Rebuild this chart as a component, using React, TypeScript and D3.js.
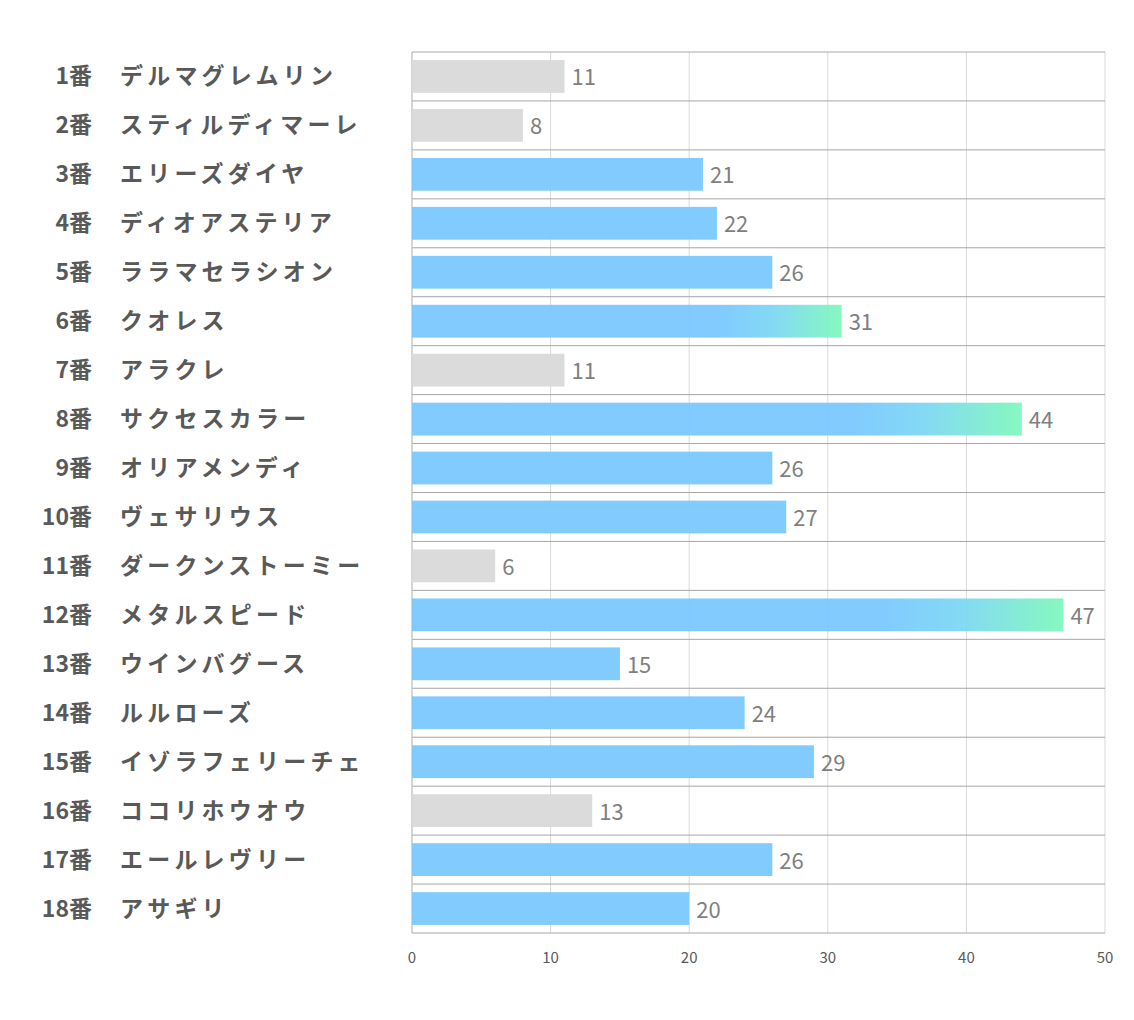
import React from 'react';
import * as d3 from 'd3';

const numbers = ['1番', '2番', '3番', '4番', '5番', '6番', '7番', '8番', '9番', '10番', '11番', '12番', '13番', '14番', '15番', '16番', '17番', '18番'];
const horses = ['デルマグレムリン', 'スティルディマーレ', 'エリーズダイヤ', 'ディオアステリア', 'ララマセラシオン', 'クオレス', 'アラクレ', 'サクセスカラー', 'オリアメンディ', 'ヴェサリウス', 'ダークンストーミー', 'メタルスピード', 'ウインバグース', 'ルルローズ', 'イゾラフェリーチェ', 'ココリホウオウ', 'エールレヴリー', 'アサギリ'];
const scores = [11, 8, 21, 22, 26, 31, 11, 44, 26, 27, 6, 47, 15, 24, 29, 13, 26, 20];
const ticks = [0, 10, 20, 30, 40, 50];

const W = 1134;
const H = 1010;
const left = 412;
const right = 1105;
const top = 52;
const bottom = 933;

const font = '"Noto Sans CJK JP", "Noto Sans", sans-serif';

const App = () => {
    const x = d3.scaleLinear().domain([0, 50]).range([left, right]);
    const y = d3.scaleBand<number>()
        .domain(d3.range(scores.length))
        .range([top, bottom])
        .paddingInner(0.33)
        .paddingOuter(0.165);
    const step = y.step();

    const fillFor = (v: number, i: number) => {
        if (v <= 13) return '#d9d9d9';
        if (v >= 30) return `url(#grad${i})`;
        return '#7ac8ff';
    };

    return (
        <svg width={W} height={H} style={{ display: 'block', marginTop: -8, marginLeft: -8 }}>
            <defs>
                {scores.map((v, i) => v >= 30 && (
                    <linearGradient key={i} id={`grad${i}`} x1="0" x2="1" y1="0" y2="0">
                        <stop offset="0" stopColor="#7ac8ff" />
                        <stop offset="0.72" stopColor="#7ac8ff" />
                        <stop offset="0.84" stopColor="#7dd7f4" />
                        <stop offset="1" stopColor="#80f8bc" />
                    </linearGradient>
                ))}
            </defs>
            <rect width={W} height={H} fill="#fff" />
            {/* vertical grid */}
            {ticks.map(t => (
                <line key={t} x1={x(t)} x2={x(t)} y1={top} y2={bottom} stroke="#d9d9d9" strokeWidth={1} />
            ))}
            {/* row separators */}
            {d3.range(scores.length + 1).map(i => (
                <line key={i} x1={left} x2={right} y1={top + i * step} y2={top + i * step} stroke="#a6a6a6" strokeWidth={1} />
            ))}
            <line x1={left} x2={left} y1={top} y2={bottom} stroke="#bfbfbf" />
            {/* bars */}
            {scores.map((v, i) => {
                const cy = (y(i) ?? 0) + y.bandwidth() / 2 - 2;
                return (
                    <g key={i}>
                        <rect x={x(0)} y={y(i)} width={x(v) - x(0)} height={y.bandwidth()}
                            fill={fillFor(v, i)} fillOpacity={0.95} />
                        <text x={x(v) + 7} y={cy + 1} dominantBaseline="central"
                            fontFamily={font} fontSize={22} fill="#7f7f7f">{v}</text>
                        <text x={92} y={cy} dominantBaseline="central" textAnchor="end"
                            fontFamily={font} fontSize={23} fontWeight="bold" fill="#595959">{numbers[i]}</text>
                        <text x={120} y={cy} dominantBaseline="central" letterSpacing={4.2}
                            fontFamily={font} fontSize={23} fontWeight="bold" fill="#595959">{horses[i]}</text>
                    </g>
                );
            })}
            {/* axis labels */}
            {ticks.map(t => (
                <text key={t} x={x(t)} y={956} textAnchor="middle" dominantBaseline="central"
                    fontFamily={font} fontSize={15} fill="#595959">{t}</text>
            ))}
        </svg>
    );
};

export default App;
